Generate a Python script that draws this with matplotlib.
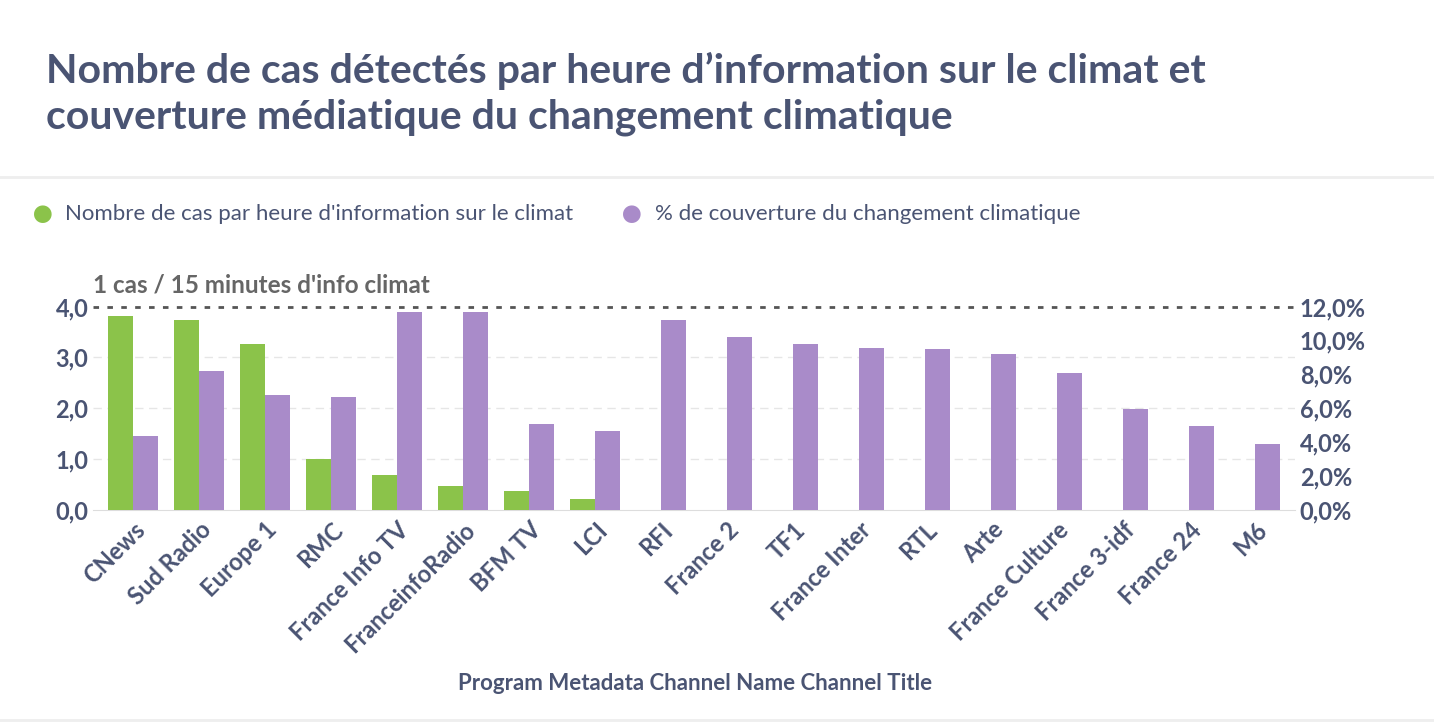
import matplotlib.pyplot as plt
import numpy as np
from matplotlib.ticker import FuncFormatter

channels = ["CNews", "Sud Radio", "Europe 1", "RMC", "France Info TV", "FranceinfoRadio",
            "BFM TV", "LCI", "RFI", "France 2", "TF1", "France Inter", "RTL", "Arte",
            "France Culture", "France 3-idf", "France 24", "M6"]
cases_per_hour = [3.82, 3.74, 3.27, 0.99, 0.69, 0.47, 0.37, 0.22,
                  0, 0, 0, 0, 0, 0, 0, 0, 0, 0]
coverage_pct = [4.38, 8.17, 6.75, 6.63, 11.66, 11.66, 5.09, 4.62, 11.18, 10.18,
                9.76, 9.53, 9.47, 9.17, 8.05, 5.92, 4.97, 3.90]

plt.rcParams['font.family'] = ['Lato', 'DejaVu Sans']
text_col = '#4a5473'
green = '#8bc34a'
purple = '#a98bc9'

fig = plt.figure(figsize=(14.34, 7.22), dpi=100)
fig.text(0.032, 0.87, "Nombre de cas détectés par heure d\u2019information sur le climat et\n"
         "couverture médiatique du changement climatique",
         fontsize=29.5, fontweight='bold', color=text_col, va='center', linespacing=1.3)
fig.add_artist(plt.Line2D([0, 1], [0.755, 0.755], color='#eeeeee', lw=2))
fig.add_artist(plt.Line2D([0, 1], [0.003, 0.003], color='#eeeeee', lw=2))

ax = fig.add_axes([0.065, 0.294, 0.838, 0.292])
ax2 = ax.twinx()
x = np.arange(len(channels))
w = 0.38
ax.bar(x - w / 2, cases_per_hour, w, color=green, zorder=3)
ax2.bar(x + w / 2, coverage_pct, w, color=purple, zorder=3)
ax.set_ylim(0, 4.15)
ax2.set_ylim(0, 12.45)
ax.set_xlim(-0.6, len(channels) - 0.4)
ax.set_yticks([0, 1, 2, 3, 4])
ax2.set_yticks([0, 2, 4, 6, 8, 10, 12])
ax.yaxis.set_major_formatter(FuncFormatter(lambda v, p: f"{v:.1f}".replace('.', ',')))
ax2.yaxis.set_major_formatter(FuncFormatter(lambda v, p: f"{v:.1f}%".replace('.', ',')))
for a in (ax, ax2):
    for s in a.spines.values():
        s.set_visible(False)
    a.tick_params(length=0, labelsize=17, labelcolor=text_col)
ax.spines['bottom'].set_visible(True)
ax.spines['bottom'].set_color('#dddddd')
for v in [1, 2, 3]:
    ax.axhline(v, color='#e6e6e6', ls=(0, (6, 4)), lw=1, zorder=0)
ax.axhline(4, color='#555555', ls=(0, (2, 3)), lw=2, zorder=4)
ax.text(-0.6, 4.2, "1 cas / 15 minutes d'info climat", fontsize=17.5, fontweight='bold',
        color='#666666', va='bottom')
ax.set_xticks(x)
ax.set_xticklabels(channels, rotation=45, ha='right', rotation_mode='anchor',
                   fontsize=17, fontweight='bold', color=text_col)
ax.tick_params(axis='x', pad=6)
for lab in ax.get_yticklabels() + ax2.get_yticklabels():
    lab.set_fontweight('bold')

fig.text(0.485, 0.045, "Program Metadata Channel Name Channel Title", fontsize=16,
         fontweight='bold', color=text_col, ha='center')

fig.text(0.022, 0.703, "\u25cf", fontsize=26, color=green, va='center')
fig.text(0.045, 0.703, "Nombre de cas par heure d'information sur le climat",
         fontsize=16, color=text_col, va='center')
fig.text(0.433, 0.703, "\u25cf", fontsize=26, color=purple, va='center')
fig.text(0.457, 0.703, "% de couverture du changement climatique",
         fontsize=16, color=text_col, va='center')

fig.savefig("out.png", dpi=100)
